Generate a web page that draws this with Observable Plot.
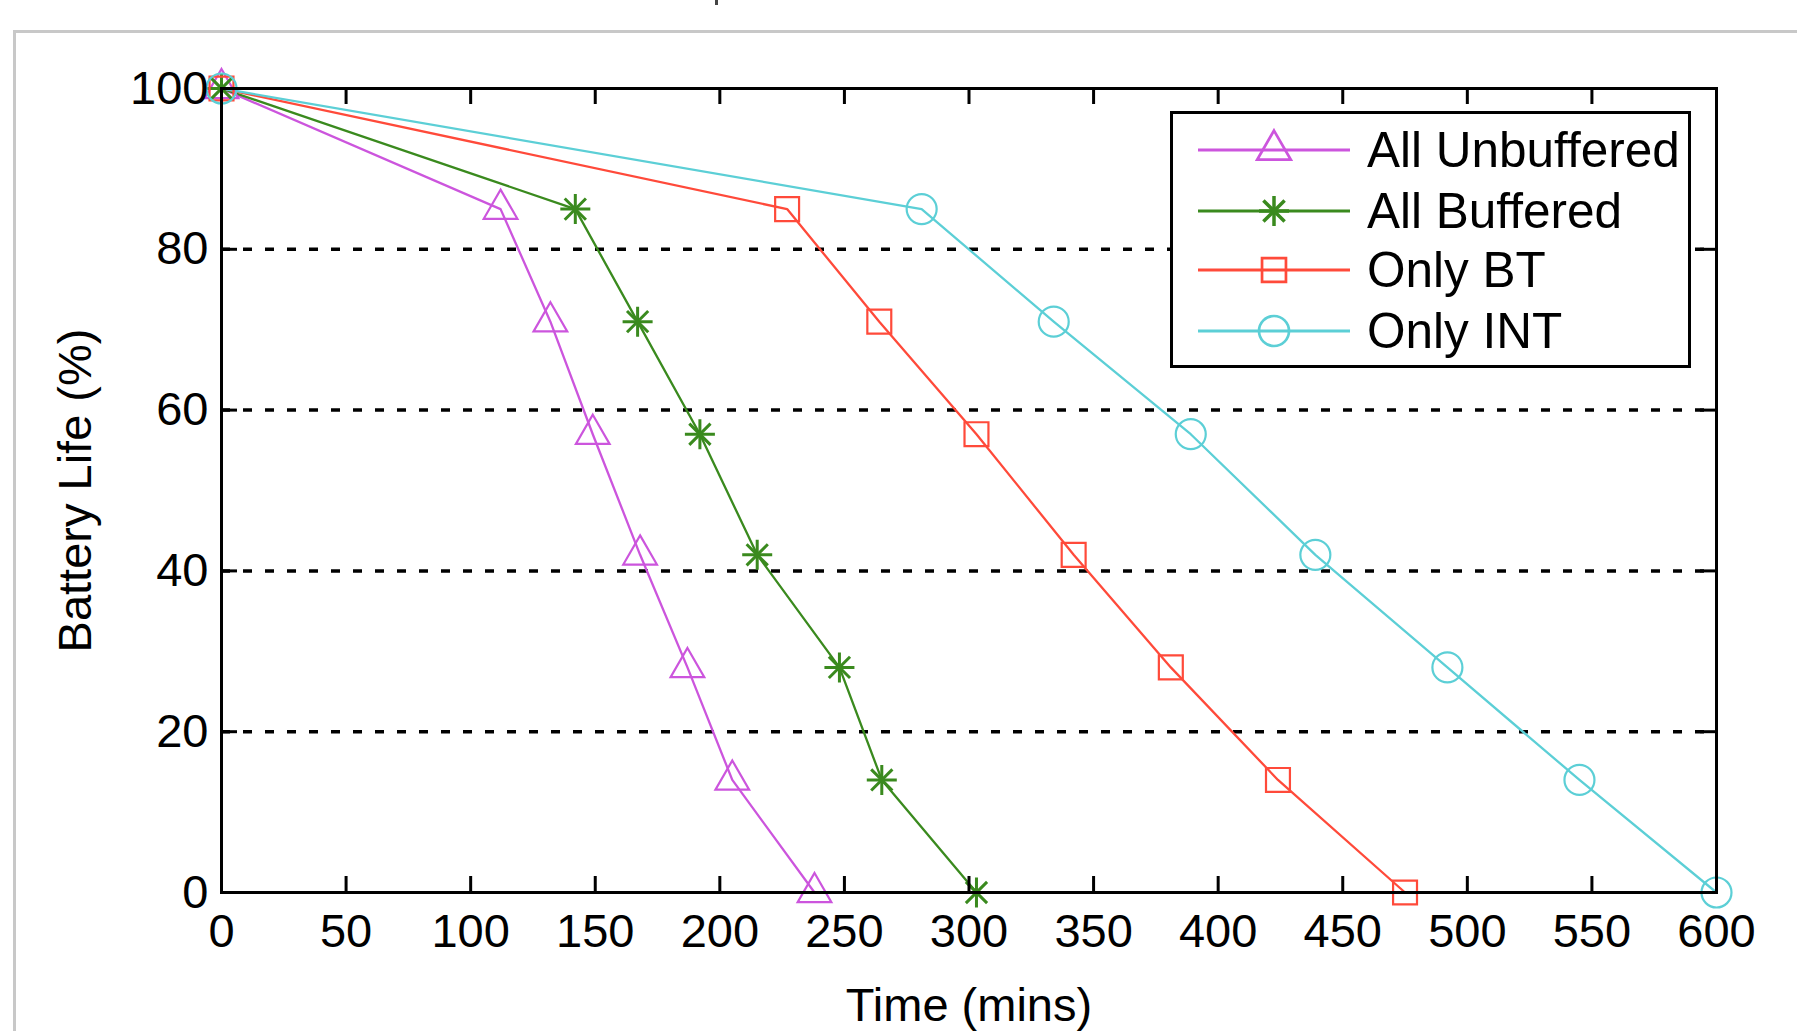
<!DOCTYPE html>
<html>
<head>
<meta charset="utf-8">
<script src="https://cdn.jsdelivr.net/npm/d3@7"></script>
<script src="https://cdn.jsdelivr.net/npm/@observablehq/plot@0.6"></script>
<style>
html, body { margin: 0; padding: 0; background: #fff; width: 1797px; height: 1031px; overflow: hidden; }
#wrap { position: relative; width: 1797px; height: 1031px; font-family: "Liberation Sans", Arial, sans-serif; }
#frame { position: absolute; left: 13px; top: 30px; right: 0; bottom: 0; border-left: 3px solid #c8c8c8; border-top: 3px solid #c8c8c8; }
#mark { position: absolute; left: 715px; top: 0; width: 3px; height: 5px; background: #444; }
#chart { position: absolute; left: 0; top: 0; }
#legend { position: absolute; left: 1170px; top: 111px; width: 515px; height: 251px; border: 3px solid #000; background: #fff; }
</style>
</head>
<body>
<div id="wrap">
  <div id="frame"></div>
  <div id="mark"></div>
  <div id="chart"></div>
  <div id="legend"></div>
</div>
<script>
// ---- data ----
const seriesNames = ["All Unbuffered", "All Buffered", "Only BT", "Only INT"];
const seriesColors = ["#cc55dd", "#3a8a1e", "#ff4a3a", "#5ccfd6"];
const batteryLevels = [100, 85, 71, 57, 42, 28, 14, 0];
const timeUnbuffered = [0, 112, 132, 149, 168, 187, 205, 238];
const timeBuffered = [0, 142, 167, 192, 215, 248, 265, 303];
const timeOnlyBT = [0, 227, 264, 303, 342, 381, 424, 475];
const timeOnlyINT = [0, 281, 334, 389, 439, 492, 545, 600];
const xTicks = [0, 50, 100, 150, 200, 250, 300, 350, 400, 450, 500, 550, 600];
const yTicks = [0, 20, 40, 60, 80, 100];
const gridLevels = [20, 40, 60, 80];
const xLabel = "Time (mins)";
const yLabel = "Battery Life (%)";

const seriesTimes = [timeUnbuffered, timeBuffered, timeOnlyBT, timeOnlyINT];
const rows = seriesNames.flatMap((name, i) =>
  seriesTimes[i].map((t, j) => ({series: name, time: t, battery: batteryLevels[j]})));

// ---- layout ----
const W = 1797, H = 1031;
const mL = 221, mR = 81, mT = 88, mB = 139;
const plotW = W - mL - mR, plotH = H - mT - mB;
const tickLen = 16;
const font = "Liberation Sans, Arial, sans-serif";

const markerStyle = [
  {symbol: "triangle", r: 12.5, sw: 2.2},
  {symbol: "plus", r: 9.7, sw: 3},
  {symbol: "square", r: 13.5, sw: 2.2},
  {symbol: "circle", r: 15, sw: 2.2}
];

const dotMarks = [];
seriesNames.forEach((name, i) => {
  const st = markerStyle[i];
  dotMarks.push(Plot.dot(rows, {filter: d => d.series === name, x: "time", y: "battery",
    stroke: "series", fill: "none", symbol: st.symbol, r: st.r, strokeWidth: st.sw}));
  if (st.symbol === "plus") {
    dotMarks.push(Plot.dot(rows, {filter: d => d.series === name, x: "time", y: "battery",
      stroke: "series", fill: "none", symbol: "times", r: st.r, strokeWidth: st.sw}));
  }
});

const chart = Plot.plot({
  width: W, height: H,
  marginLeft: mL, marginRight: mR, marginTop: mT, marginBottom: mB,
  style: {fontFamily: font, fontSize: "47px", color: "#000", background: "transparent", overflow: "visible"},
  x: {domain: [0, 600]},
  y: {domain: [0, 100]},
  color: {domain: seriesNames, range: seriesColors},
  marks: [
    Plot.ruleY(gridLevels, {stroke: "#000", strokeWidth: 3.5, strokeDasharray: "9,13"}),
    Plot.line(rows, {x: "time", y: "battery", z: "series", stroke: "series", strokeWidth: 2.3}),
    ...dotMarks,
    Plot.frame({stroke: "#000", strokeWidth: 3}),
    Plot.ruleX(xTicks, {x: d => d, insetTop: plotH - tickLen, stroke: "#000", strokeWidth: 3}),
    Plot.ruleX(xTicks, {x: d => d, insetBottom: plotH - tickLen, stroke: "#000", strokeWidth: 3}),
    Plot.ruleY(yTicks, {y: d => d, insetRight: plotW - tickLen, stroke: "#000", strokeWidth: 3}),
    Plot.ruleY(yTicks, {y: d => d, insetLeft: plotW - tickLen, stroke: "#000", strokeWidth: 3}),
    Plot.axisX(xTicks, {tickSize: 0, tickPadding: 21, fontSize: 47, label: null}),
    Plot.axisX([], {tickSize: 0, fontSize: 47, dx: 8,
      label: xLabel, labelAnchor: "center", labelOffset: 128, labelArrow: "none"}),
    Plot.axisY(yTicks, {tickSize: 0, tickPadding: 13, fontSize: 47,
      label: yLabel, labelAnchor: "center", labelOffset: 164, labelArrow: "none"})
  ]
});
document.getElementById("chart").appendChild(chart);

// ---- legend (inside the axes, top-right) ----
const symbolTypes = {triangle: d3.symbolTriangle, plus: d3.symbolPlus, times: d3.symbolTimes, square: d3.symbolSquare, circle: d3.symbolCircle};
const lg = d3.select("#legend").append("svg").attr("width", 515).attr("height", 251).style("display", "block");
const rowY = [36, 97, 156, 217];
seriesNames.forEach((name, i) => {
  const g = lg.append("g").attr("transform", `translate(0,${rowY[i]})`);
  g.append("line").attr("x1", 25).attr("x2", 177).attr("y1", 0).attr("y2", 0)
    .attr("stroke", seriesColors[i]).attr("stroke-width", 3);
  const st = markerStyle[i];
  const types = st.symbol === "plus" ? ["plus", "times"] : [st.symbol];
  types.forEach(t => {
    g.append("path").attr("transform", "translate(101,0)")
      .attr("d", d3.symbol(symbolTypes[t], Math.PI * st.r * st.r)())
      .attr("fill", "none").attr("stroke", seriesColors[i]).attr("stroke-width", st.sw + 0.5);
  });
  g.append("text").attr("x", 194).attr("y", 17).attr("font-family", font)
    .attr("font-size", 49.5).attr("fill", "#000").text(name);
});
</script>
</body>
</html>
